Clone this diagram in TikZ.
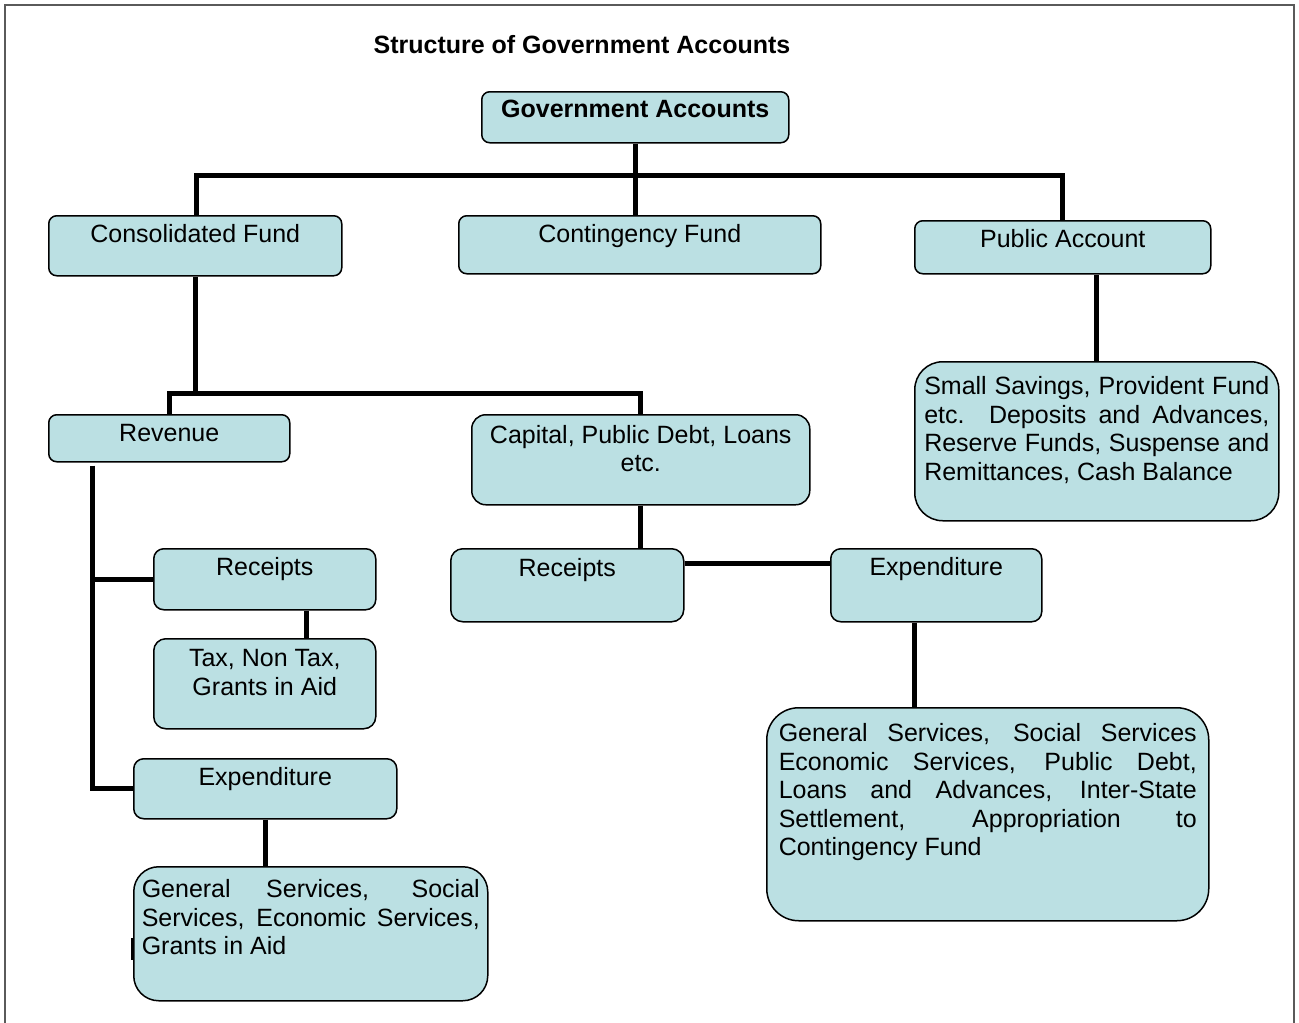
\documentclass[tikz,border=0pt]{standalone}
\usepackage{fontspec}
\setmainfont{Liberation Sans}
\usetikzlibrary{calc}
\definecolor{boxfill}{RGB}{187,224,227}
\definecolor{framegray}{RGB}{90,90,90}
\newcommand\cbox[4]{\parbox[t][#2][t]{#1}{\centering\rule{0pt}{#3}#4\par}}
\newcommand\jbox[4]{\parbox[t][#2][t]{#1}{\tolerance=10000\hbadness=10000\rule{0pt}{#3}#4\par}}
\tikzset{
  every node/.style={font=\fontsize{25}{28.5}\selectfont},
  acct/.style={draw=black, fill=boxfill, line width=1.5pt, inner sep=0pt, anchor=north west, rounded corners=#1},
  acct/.default=8pt,
  conn/.style={draw=black, line width=5pt},
  frameline/.style={draw=framegray, line width=1.3pt}
}
\begin{document}
\begin{tikzpicture}[x=1pt,y=-1pt]
\useasboundingbox (0,0) rectangle (1299,1023);
\draw[frameline] (5,1023) -- (5,5) -- (1294,5) -- (1294,1023);

\node[font=\fontsize{25}{28.5}\selectfont\bfseries] (title) at (582,45) {Structure of Government Accounts};

% connectors first so boxes sit on top
\coordinate (gaS) at (634.5,142);

\node[acct] (ga) at (481,91) {\cbox{307pt}{51pt}{26pt}{\bfseries Government Accounts}};
\node[acct] (cons) at (48,215) {\cbox{293pt}{60pt}{27pt}{Consolidated Fund}};
\node[acct] (cont) at (458,215) {\cbox{362pt}{58pt}{27pt}{Contingency Fund}};
\node[acct] (pa) at (914,220) {\cbox{296pt}{53pt}{26.5pt}{Public Account}};
\node[acct=28pt, inner xsep=9.5pt] (ss) at (914,361) {\jbox{345pt}{159pt}{33pt}{Small Savings, Provident Fund\linebreak etc.\ \ Deposits and Advances,\linebreak Reserve Funds, Suspense and\linebreak Remittances, Cash Balance}};
\node[acct] (rev) at (48,414) {\cbox{241pt}{47pt}{27pt}{Revenue}};
\node[acct=14pt] (cap) at (471,414) {\cbox{338pt}{90pt}{28.5pt}{Capital, Public Debt, Loans\\etc.}};
\node[acct=10pt] (rcl) at (153,548) {\cbox{222pt}{61pt}{27pt}{Receipts}};
\node[acct=12pt] (tax) at (153,638) {\cbox{222pt}{90pt}{28pt}{Tax, Non Tax,\\Grants in Aid}};
\node[acct=10pt] (exl) at (133,758) {\cbox{263pt}{60pt}{27pt}{Expenditure}};
\node[acct=25pt, inner xsep=8pt] (gl) at (133,866) {\jbox{338pt}{134pt}{31pt}{General Services, Social\linebreak Services, Economic Services,\linebreak Grants in Aid}};
\node[acct=12pt] (rcm) at (450,548) {\cbox{233pt}{73pt}{28pt}{Receipts}};
\node[acct=10pt] (exr) at (830,548) {\cbox{211pt}{73pt}{27pt}{Expenditure}};
\node[acct=32pt, inner xsep=12pt] (gr) at (766,707) {\jbox{418pt}{213pt}{34pt}{General Services, Social Services\linebreak Economic Services, Public Debt,\linebreak Loans and Advances, Inter-State\linebreak Settlement, Appropriation to\linebreak Contingency Fund}};

% top level
\draw[conn] (ga.south) -- (ga.south |- cont.north);
\draw[conn] ($(cons.north)+(1.5,0)$) -- ++(0,-40) -| (pa.north);
% public account
\draw[conn] (ss.north) -- (ss.north |- pa.south);
% consolidated fund
\coordinate (j2) at ($(cons.south)+(0.5,117)$);
\draw[conn] ($(cons.south)+(0.5,0)$) -- (j2);
\draw[conn] (rev.north) -- (rev.north |- j2) -| (cap.north);
% revenue branch
\coordinate (rt) at ($(rev.south west)+(44,3)$);
\draw[conn] (rt) |- (exl.west);
\draw[conn] (rcl.west) -- (rcl.west -| rt);
\draw[conn] ($(rcl.south)+(42,0)$) -- ($(tax.north)+(42,0)$);
\draw[conn] (exl.south) -- (exl.south |- gl.north);
\draw[conn, line width=3pt] ($(gl.north west)+(-1,72)$) -- ++(0,22);
% capital branch
\draw[conn] (cap.south) -- (cap.south |- rcm.north);
\draw[conn] ($(rcm.north east)+(0,15)$) -- ($(exr.north west)+(0,15)$);
\draw[conn] ($(exr.south west)+(84,0)$) -- ($(gr.north west)+(148,0)$);
\end{tikzpicture}
\end{document}
